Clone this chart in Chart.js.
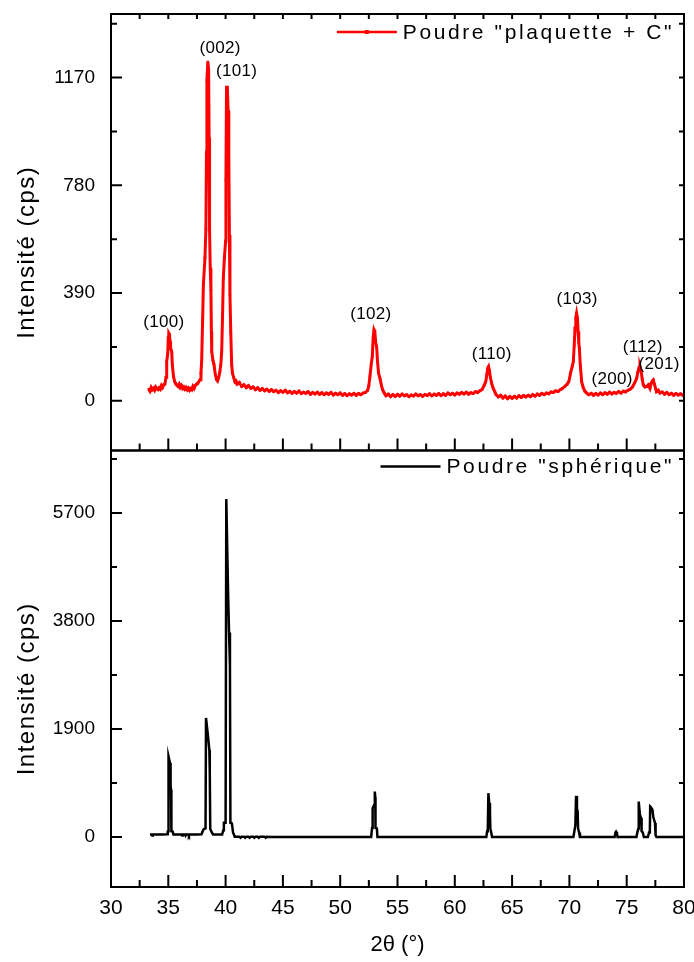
<!DOCTYPE html>
<html>
<head>
<meta charset="utf-8">
<script src="https://cdn.jsdelivr.net/npm/chart.js@4.4.0/dist/chart.umd.min.js"></script>
<style>
  body { margin: 0; background: #fff; }
  #wrap { width: 694px; height: 962px; }
</style>
</head>
<body>
<div id="wrap"><canvas id="xrd" width="694" height="962"></canvas></div>
<script>
// ticks
const xTicks = [30, 35, 40, 45, 50, 55, 60, 65, 70, 75, 80];
const topTicks = [0, 390, 780, 1170];
const botTicks = [0, 1900, 3800, 5700];

// Poudre "plaquette + C" (red)
const topTheta = [
  33.3, 33.4, 33.5, 33.6, 33.7, 33.8, 33.9, 34.0, 34.1, 34.2,
  34.3, 34.4, 34.5, 34.6, 34.7, 34.8, 34.86, 34.95, 35.0, 35.05,
  35.1, 35.15, 35.2, 35.3, 35.35, 35.45, 35.55, 35.65, 35.73, 35.85,
  35.95, 36.05, 36.15, 36.25, 36.35, 36.45, 36.55, 36.65, 36.75, 36.85,
  36.95, 37.05, 37.15, 37.25, 37.35, 37.45, 37.55, 37.65, 37.77, 37.85,
  37.91, 38.0, 38.06, 38.2, 38.28, 38.33, 38.37, 38.45, 38.52, 38.56,
  38.6, 38.66, 38.72, 38.76, 38.79, 38.9, 38.99, 39.1, 39.22, 39.3,
  39.4, 39.5, 39.58, 39.66, 39.73, 39.8, 39.9, 40.0, 40.03, 40.08,
  40.15, 40.22, 40.28, 40.33, 40.38, 40.45, 40.53, 40.6, 40.7, 40.82,
  40.9, 41.0, 41.2, 41.4, 41.6, 41.8, 42.0, 42.2, 42.4, 42.6,
  42.8, 43.0, 43.2, 43.4, 43.6, 43.8, 44.0, 44.2, 44.4, 44.6,
  44.8, 45.0, 45.2, 45.4, 45.6, 45.8, 46.0, 46.2, 46.4, 46.6,
  46.8, 47.0, 47.2, 47.4, 47.6, 47.8, 48.0, 48.2, 48.4, 48.6,
  48.8, 49.0, 49.2, 49.4, 49.6, 49.8, 50.0, 50.2, 50.4, 50.6,
  50.8, 51.0, 51.2, 51.4, 51.6, 51.8, 52.0, 52.2, 52.4, 52.5,
  52.6, 52.7, 52.8, 52.88, 52.95, 53.02, 53.1, 53.18, 53.26, 53.35,
  53.47, 53.6, 53.7, 53.8, 53.9, 54.0, 54.2, 54.4, 54.6, 54.8,
  55.0, 55.2, 55.4, 55.6, 55.8, 56.0, 56.2, 56.4, 56.6, 56.8,
  57.0, 57.2, 57.4, 57.6, 57.8, 58.0, 58.2, 58.4, 58.6, 58.8,
  59.0, 59.2, 59.4, 59.6, 59.8, 60.0, 60.2, 60.4, 60.6, 60.8,
  61.0, 61.2, 61.4, 61.6, 61.8, 62.0, 62.2, 62.4, 62.55, 62.7,
  62.8, 62.88, 62.95, 63.02, 63.1, 63.22, 63.35, 63.5, 63.6, 63.8,
  64.0, 64.2, 64.4, 64.6, 64.8, 65.0, 65.2, 65.4, 65.6, 65.8,
  66.0, 66.2, 66.4, 66.6, 66.8, 67.0, 67.2, 67.4, 67.6, 67.8,
  68.0, 68.2, 68.4, 68.6, 68.8, 69.0, 69.2, 69.4, 69.6, 69.8,
  69.95, 70.1, 70.25, 70.34, 70.42, 70.49, 70.56, 70.63, 70.7, 70.76,
  70.82, 70.87, 70.95, 71.07, 71.2, 71.35, 71.5, 71.7, 71.9, 72.1,
  72.3, 72.5, 72.7, 72.9, 73.1, 73.3, 73.5, 73.7, 73.9, 74.1,
  74.3, 74.5, 74.7, 74.9, 75.1, 75.3, 75.5, 75.7, 75.87, 75.98,
  76.08, 76.16, 76.25, 76.35, 76.45, 76.6, 76.75, 76.9, 77.03, 77.15,
  77.25, 77.32, 77.42, 77.52, 77.6, 77.75, 77.9, 78.1, 78.3, 78.5,
  78.7, 78.9, 79.1, 79.3, 79.5, 79.7, 79.9, 80.0
];
const topCps = [
  42, 35, 48, 40, 45, 38, 50, 44, 40, 47,
  42, 55, 48, 58, 60, 85, 142, 170, 230, 244,
  240, 215, 190, 178, 130, 90, 70, 62, 57, 52,
  60, 48, 55, 45, 50, 42, 48, 40, 46, 38,
  44, 40, 52, 45, 55, 60, 62, 68, 76, 100,
  142, 300, 420, 517, 620, 900, 1159, 1226, 1200, 950,
  620, 480, 400, 250, 178, 145, 131, 95, 76, 72,
  85, 105, 130, 178, 300, 444, 520, 578, 800, 1135,
  1135, 1050, 900, 600, 385, 250, 131, 100, 85, 69,
  72, 60, 66, 52, 58, 48, 55, 45, 50, 40,
  47, 38, 44, 36, 42, 34, 40, 33, 38, 30,
  36, 31, 38, 29, 34, 27, 33, 28, 35, 26,
  31, 27, 33, 24, 30, 25, 31, 23, 29, 22,
  28, 24, 30, 21, 27, 22, 28, 20, 26, 19,
  25, 21, 27, 20, 26, 22, 28, 30, 38, 55,
  90, 130, 160, 230, 257, 250, 210, 196, 140, 100,
  81, 55, 40, 32, 25, 18, 24, 15, 22, 16,
  23, 17, 24, 18, 22, 15, 21, 17, 24, 18,
  22, 16, 23, 19, 25, 18, 24, 20, 26, 19,
  25, 20, 28, 22, 27, 21, 28, 24, 30, 25,
  31, 24, 29, 26, 33, 30, 36, 42, 55, 69,
  95, 118, 124, 110, 85, 63, 45, 32, 22, 14,
  20, 10, 17, 8, 15, 9, 16, 10, 18, 12,
  19, 14, 20, 15, 22, 17, 24, 20, 27, 22,
  28, 25, 32, 30, 36, 33, 40, 45, 52, 60,
  69, 100, 125, 142, 200, 263, 300, 317, 300, 250,
  210, 190, 130, 69, 48, 35, 28, 22, 27, 20,
  26, 21, 28, 22, 29, 24, 31, 25, 30, 27,
  33, 28, 35, 32, 38, 42, 50, 65, 81, 105,
  120, 124, 110, 80, 57, 50, 52, 58, 45, 65,
  72, 75, 60, 45, 33, 38, 28, 32, 24, 30,
  22, 27, 20, 26, 21, 25, 20, 22
];

// Poudre "sphérique" (black)
const botTheta = [
  33.4, 33.55, 33.6, 33.65, 34.0, 34.5, 34.9, 34.95, 35.0, 35.02,
  35.15, 35.2, 35.24, 35.27, 35.38, 35.45, 36.0, 36.15, 36.2, 36.25,
  36.45, 36.5, 36.55, 36.75, 36.8, 36.85, 37.5, 37.9, 38.0, 38.1,
  38.25, 38.29, 38.45, 38.58, 38.62, 38.66, 38.8, 38.9, 39.7, 39.8,
  39.85, 40.0, 40.06, 40.15, 40.23, 40.3, 40.38, 40.42, 40.55, 40.65,
  40.8, 41.2, 41.3, 41.4, 41.6, 41.7, 41.8, 42.0, 42.1, 42.2,
  42.4, 42.5, 42.6, 42.8, 42.9, 43.0, 43.4, 43.5, 43.6, 44.0,
  52.7, 52.78, 52.83, 52.95, 53.02, 53.06, 53.08, 53.2, 53.25, 62.75,
  62.82, 62.88, 62.93, 63.0, 63.07, 63.1, 63.18, 63.25, 70.35, 70.45,
  70.52, 70.58, 70.66, 70.72, 70.76, 70.85, 70.92, 73.95, 74.02, 74.07,
  74.15, 74.2, 75.85, 75.95, 76.02, 76.05, 76.15, 76.25, 76.3, 76.4,
  76.5, 76.85, 76.95, 77.02, 77.05, 77.12, 77.25, 77.32, 77.47, 77.52,
  77.6, 80.0
];
const botCps = [
  45, 45, 25, 45, 45, 45, 48, 95, 100, 1417,
  1300, 900, 829, 100, 95, 45, 45, 45, 25, 45,
  45, 25, 45, 45, 25, 45, 45, 48, 100, 140,
  150, 2094, 1800, 1535, 1130, 140, 80, 45, 45, 120,
  250, 250, 5947, 5000, 4180, 3600, 3005, 250, 240, 80,
  5, 5, -15, 5, 5, -15, 5, 5, -15, 5,
  5, -15, 5, 5, -15, 5, 5, -15, 5, 0,
  0, 160, 506, 560, 800, 700, 160, 150, 0, 0,
  100, 150, 771, 600, 423, 150, 80, 0, 0, 120,
  200, 723, 500, 447, 150, 80, 0, 0, 80, 94,
  60, 0, 0, 100, 150, 623, 400, 335, 100, 80,
  0, 0, 80, 120, 535, 520, 476, 350, 247, 30,
  0, 0
];

// Miller indices written over the red pattern
const peakNames = ['(100)', '(002)', '(101)', '(102)', '(110)', '(103)', '(200)', '(112)', '(201)'];
const peakTheta = [34.62, 39.52, 40.97, 52.67, 63.22, 70.67, 73.72, 76.4, 77.82];
const peakCps = [284, 1275, 1193, 312, 167, 367, 76, 193, 131];

const topName = 'Poudre "plaquette + C"';
const botName = 'Poudre "sphérique"';
const yTitle = 'Intensité (cps)';

const FONT = "'Liberation Sans', Arial, Helvetica, sans-serif";

const toPoints = (xs, ys) => xs.map((x, i) => ({ x: x, y: ys[i] }));
const fixTicks = list => scale => { scale.ticks = list.map(v => ({ value: v })); };

// frames, inward ticks, legends and labels
const panels = {
  id: 'panels',
  afterDraw(chart) {
    const ctx = chart.ctx;
    const xs = chart.scales.x;
    const { left, right } = chart.chartArea;
    ctx.save();
    ctx.strokeStyle = '#000';
    ctx.lineWidth = 2;

    [['yTop', 195, true], ['yBot', 950, false]].forEach(([id, minor, isTop]) => {
      const s = chart.scales[id];
      const top = s.top, bot = s.bottom;
      ctx.strokeRect(left, top, right - left, bot - top);
      ctx.beginPath();
      for (let v = Math.ceil(s.min / minor) * minor; v <= s.max; v += minor) {
        const y = s.getPixelForValue(v);
        const major = s.ticks.some(t => t.value === v);
        ctx.moveTo(left, y); ctx.lineTo(left + (major ? 11 : 6), y);
        ctx.moveTo(right, y); ctx.lineTo(right - 5, y);
      }
      for (let v = xs.min; v <= xs.max; v += 2.5) {
        const x = xs.getPixelForValue(v);
        const major = v % 5 === 0;
        ctx.moveTo(x, bot); ctx.lineTo(x, bot - (major ? 12 : 7));
        if (isTop) { ctx.moveTo(x, top); ctx.lineTo(x, top + 5); }
      }
      ctx.stroke();

      // y title
      ctx.save();
      ctx.fillStyle = '#000';
      ctx.font = '24px ' + FONT;
      ctx.letterSpacing = '1.5px';
      ctx.textAlign = 'center';
      ctx.textBaseline = 'middle';
      ctx.translate(27, (top + bot) / 2 + 20);
      ctx.rotate(-Math.PI / 2);
      ctx.fillText(yTitle, 0, 0);
      ctx.restore();
    });

    // legends
    const legend = (name, color, s, dy, marker) => {
      ctx.save();
      ctx.font = '21px ' + FONT;
      ctx.letterSpacing = '2.6px';
      ctx.fillStyle = '#000';
      ctx.textBaseline = 'middle';
      const w = ctx.measureText(name).width;
      const tx = right - 10 - w;
      const y = s.top + dy;
      ctx.fillText(name, tx, y);
      ctx.strokeStyle = color;
      ctx.lineWidth = 2.5;
      ctx.beginPath();
      ctx.moveTo(tx - 66, y - 1); ctx.lineTo(tx - 6, y - 1);
      ctx.stroke();
      if (marker) {
        ctx.fillStyle = color;
        ctx.fillRect(tx - 38, y - 3, 4, 4);
      }
      ctx.restore();
    };
    legend(topName, '#ff0000', chart.scales.yTop, 19, true);
    legend(botName, '#000000', chart.scales.yBot, 17, false);

    // peak labels
    const ys = chart.scales.yTop;
    ctx.fillStyle = '#000';
    ctx.font = '17px ' + FONT;
    ctx.letterSpacing = '0.3px';
    ctx.textAlign = 'center';
    ctx.textBaseline = 'middle';
    peakNames.forEach((n, i) => {
      ctx.fillText(n, xs.getPixelForValue(peakTheta[i]), ys.getPixelForValue(peakCps[i]));
    });
    ctx.restore();
  }
};

const yScale = (min, max, ticks, weight) => ({
  type: 'linear',
  position: 'left',
  stack: 'xrd',
  stackWeight: 1,
  weight: weight,
  min: min,
  max: max,
  afterBuildTicks: fixTicks(ticks),
  afterFit: s => { s.width = 111; s.paddingTop = 0; s.paddingBottom = 0; },
  grid: { display: false, drawTicks: false },
  border: { display: false },
  ticks: {
    padding: 16,
    color: '#000',
    font: { family: FONT, size: 19 },
    callback: v => String(v)
  }
});

new Chart(document.getElementById('xrd'), {
  type: 'line',
  data: {
    datasets: [
      {
        label: topName,
        data: toPoints(topTheta, topCps),
        yAxisID: 'yTop',
        borderColor: '#ff0000',
        backgroundColor: '#ff0000',
        borderWidth: 3,
        pointStyle: 'rect',
        pointRadius: 1.8,
        pointBorderWidth: 0,
        tension: 0
      },
      {
        label: botName,
        data: toPoints(botTheta, botCps),
        yAxisID: 'yBot',
        borderColor: '#000000',
        borderWidth: 2.5,
        pointRadius: 0,
        tension: 0
      }
    ]
  },
  options: {
    responsive: false,
    animation: false,
    devicePixelRatio: 1,
    parsing: false,
    layout: { padding: { left: 0, right: 10, top: 14, bottom: 0 } },
    plugins: { legend: { display: false }, tooltip: { enabled: false } },
    scales: {
      x: {
        type: 'linear',
        min: 30,
        max: 80,
        afterBuildTicks: fixTicks(xTicks),
        afterFit: s => { s.height = 75; s.paddingLeft = 0; s.paddingRight = 0; },
        grid: { display: false, drawTicks: false },
        border: { display: false },
        ticks: { padding: 9, color: '#000', font: { family: FONT, size: 21 } },
        title: {
          display: true,
          text: '2θ (°)',
          color: '#000',
          font: { family: FONT, size: 22 },
          padding: { top: 0, bottom: 4 }
        }
      },
      yTop: yScale(-180, 1400, topTicks, 2),
      yBot: yScale(-880, 6800, botTicks, 1)
    }
  },
  plugins: [panels]
});
</script>
</body>
</html>
